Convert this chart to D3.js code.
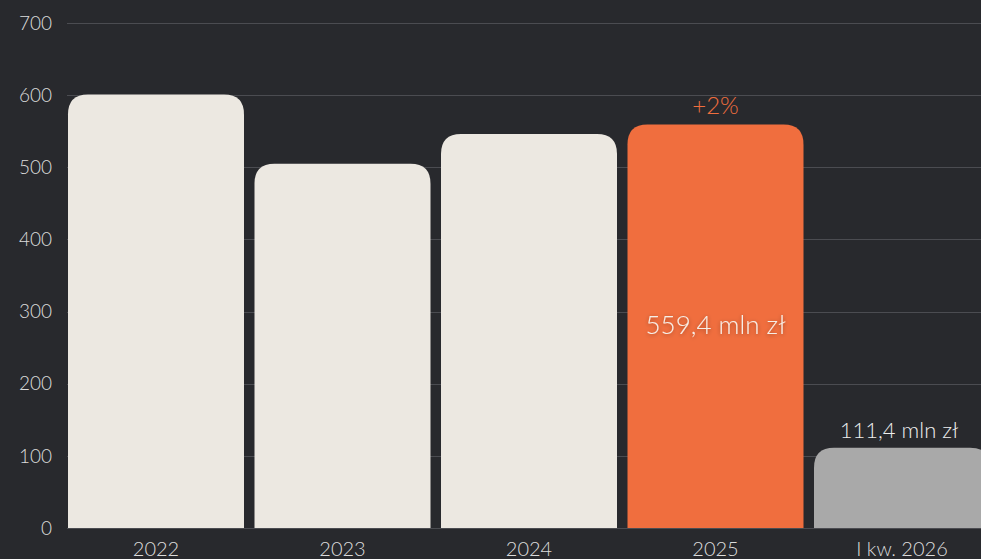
<html>
<head>
<script src="https://d3js.org/d3.v7.min.js"></script>
<style>
  body {margin: 0; background: #28292d;}
  svg {display: block; font-family: Lato, "Open Sans", sans-serif; font-weight: 300;}
</style>
</head>
<body>
<svg class="chart" width="981" height="559"></svg>
<script>
var categories = ["2022", "2023", "2024", "2025", "I kw. 2026"];
var values = [601, 505, 546, 559.4, 111.4];
var colors = ["#ece8e1", "#ece8e1", "#ece8e1", "#f06e3e", "#a9a9a9"];
var yTicks = [0, 100, 200, 300, 400, 500, 600, 700];

var width = 981, height = 559;
var margin = {top: 23, left: 68, bottom: 31};
var plotRight = 990;

var svg = d3.select(".chart");

var defs = svg.append("defs");
var f = defs.append("filter").attr("id", "shadow").attr("x", "-20%").attr("y", "-50%").attr("width", "140%").attr("height", "200%");
f.append("feDropShadow").attr("dx", 0).attr("dy", 1).attr("stdDeviation", 2).attr("flood-color", "#000").attr("flood-opacity", 0.35);

var x = d3.scaleBand()
  .domain(categories)
  .range([margin.left, plotRight])
  .paddingInner(0.0563)
  .paddingOuter(0);

var y = d3.scaleLinear()
  .domain([0, 700])
  .range([height - margin.bottom, margin.top]);

// gridlines
svg.append("g")
  .selectAll("line")
  .data(yTicks)
  .enter().append("line")
  .attr("x1", margin.left - 1)
  .attr("x2", width)
  .attr("y1", function(d) {return Math.round(y(d)) + 0.5;})
  .attr("y2", function(d) {return Math.round(y(d)) + 0.5;})
  .attr("stroke", "#4b4c51")
  .attr("stroke-width", 1);

// y labels
svg.append("g")
  .selectAll("text")
  .data(yTicks)
  .enter().append("text")
  .attr("x", 52)
  .attr("y", function(d) {return y(d);})
  .attr("dy", "0.35em")
  .attr("text-anchor", "end")
  .attr("fill", "#dcdcdc")
  .style("font-size", "19px")
  .text(function(d) {return d;});

// bars with rounded top corners
var r = 20;
function barPath(d, i) {
  var x0 = x(categories[i]), w = x.bandwidth();
  var y0 = y(0), y1 = y(d);
  var rr = Math.min(r, (y0 - y1));
  return "M" + x0 + "," + y0 +
    "V" + (y1 + rr) +
    "Q" + x0 + "," + y1 + " " + (x0 + rr) + "," + y1 +
    "H" + (x0 + w - rr) +
    "Q" + (x0 + w) + "," + y1 + " " + (x0 + w) + "," + (y1 + rr) +
    "V" + y0 + "Z";
}

svg.append("g")
  .selectAll("path")
  .data(values)
  .enter().append("path")
  .attr("d", barPath)
  .attr("fill", function(d, i) {return colors[i];});

// x labels
svg.append("g")
  .selectAll("text")
  .data(categories)
  .enter().append("text")
  .attr("x", function(d) {return x(d) + x.bandwidth() / 2;})
  .attr("y", 556)
  .attr("text-anchor", "middle")
  .attr("fill", "#dcdcdc")
  .style("font-size", "20px")
  .text(function(d) {return d;});

// annotations
var c2025 = x("2025") + x.bandwidth() / 2;
svg.append("text")
  .attr("x", c2025)
  .attr("y", y(values[3]) - 10)
  .attr("text-anchor", "middle")
  .attr("fill", "#f06e3e")
  .style("font-size", "24px")
  .text("+2%");

svg.append("text")
  .attr("x", c2025)
  .attr("y", 334)
  .attr("text-anchor", "middle")
  .attr("fill", "#f5efe8")
  .attr("filter", "url(#shadow)")
  .style("font-size", "26px")
  .text("559,4 mln zł");

svg.append("text")
  .attr("x", x("I kw. 2026") + 85)
  .attr("y", y(values[4]) - 10)
  .attr("text-anchor", "middle")
  .attr("fill", "#eeeeee")
  .style("font-size", "22px")
  .text("111,4 mln zł");
</script>
</body>
</html>
